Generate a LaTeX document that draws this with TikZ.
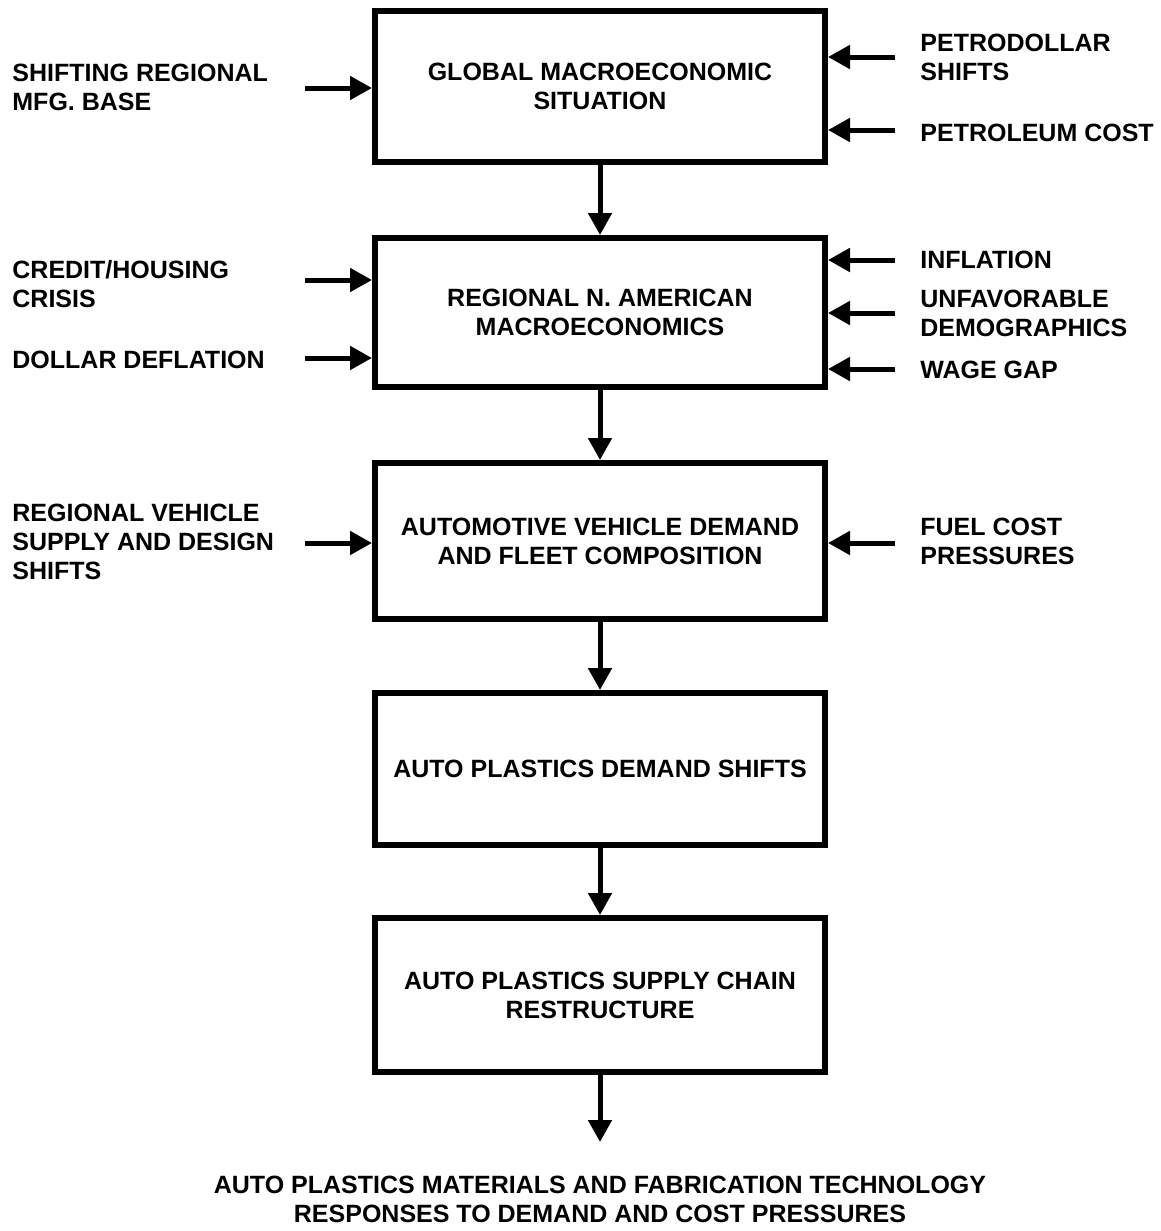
\documentclass[tikz,border=0pt]{standalone}
\usepackage{fontspec}
\setmainfont{Liberation Sans}
\usetikzlibrary{arrows.meta}
\begin{document}
\begin{tikzpicture}[x=0.5pt,y=-0.5pt,
  every node/.style={font=\bfseries\fontsize{12.5}{14.5}\selectfont},
  stage/.style={draw,line width=3pt,minimum width=225pt,align=center,inner sep=0pt},
  lbl/.style={align=left,inner sep=0pt,anchor=west},
  arr/.style={line width=2.5pt,-{Triangle[length=11pt,width=11.5pt]}}]
\useasboundingbox (0,0) rectangle (1161,1231);

% main chain
\node[stage,minimum height=75.5pt] (b1) at (600,86.5) {GLOBAL MACROECONOMIC\\SITUATION};
\node[stage,minimum height=74.5pt] (b2) at (600,312.5) {REGIONAL N. AMERICAN\\MACROECONOMICS};
\node[stage,minimum height=78pt] (b3) at (600,541) {AUTOMOTIVE VEHICLE DEMAND\\AND FLEET COMPOSITION};
\node[stage,minimum height=76pt] (b4) at (600,769) {AUTO PLASTICS DEMAND SHIFTS};
\node[stage,minimum height=77pt] (b5) at (600,995) {AUTO PLASTICS SUPPLY CHAIN\\RESTRUCTURE};
\node[align=center,inner sep=0pt] (out) at (600,1199) {AUTO PLASTICS MATERIALS AND FABRICATION TECHNOLOGY\\RESPONSES TO DEMAND AND COST PRESSURES};
\coordinate (outtip) at (600,1142);

\draw[arr] (b1.south) -- (b2.north);
\draw[arr] (b2.south) -- (b3.north);
\draw[arr] (b3.south) -- (b4.north);
\draw[arr] (b4.south) -- (b5.north);
\draw[arr] (b5.south) -- (outtip);

% influences from the left
\node[lbl] (l1) at (12,87) {SHIFTING REGIONAL\\MFG. BASE};
\node[lbl] (l2) at (12,284) {CREDIT/HOUSING\\CRISIS};
\node[lbl] (l3) at (12,360) {DOLLAR DEFLATION};
\node[lbl] (l4) at (12,542) {REGIONAL VEHICLE\\SUPPLY AND DESIGN\\SHIFTS};

\coordinate (sl1) at (305,88);
\coordinate (sl2) at (305,280);
\coordinate (sl3) at (305,358);
\coordinate (sl4) at (305,543);
\draw[arr] (sl1) -- (sl1 -| b1.west);
\draw[arr] (sl2) -- (sl2 -| b2.west);
\draw[arr] (sl3) -- (sl3 -| b2.west);
\draw[arr] (sl4) -- (sl4 -| b3.west);

% influences from the right
\node[lbl] (r1) at (920,57) {PETRODOLLAR\\SHIFTS};
\node[lbl] (r2) at (920,133) {PETROLEUM COST};
\node[lbl] (r3) at (920,260) {INFLATION};
\node[lbl] (r4) at (920,313) {UNFAVORABLE\\DEMOGRAPHICS};
\node[lbl] (r5) at (920,370) {WAGE GAP};
\node[lbl] (r6) at (920,541) {FUEL COST\\PRESSURES};

\coordinate (sr1) at (895,57);
\coordinate (sr2) at (895,130);
\coordinate (sr3) at (895,260);
\coordinate (sr4) at (895,313);
\coordinate (sr5) at (895,369);
\coordinate (sr6) at (895,543);
\draw[arr] (sr1) -- (sr1 -| b1.east);
\draw[arr] (sr2) -- (sr2 -| b1.east);
\draw[arr] (sr3) -- (sr3 -| b2.east);
\draw[arr] (sr4) -- (sr4 -| b2.east);
\draw[arr] (sr5) -- (sr5 -| b2.east);
\draw[arr] (sr6) -- (sr6 -| b3.east);
\end{tikzpicture}
\end{document}
